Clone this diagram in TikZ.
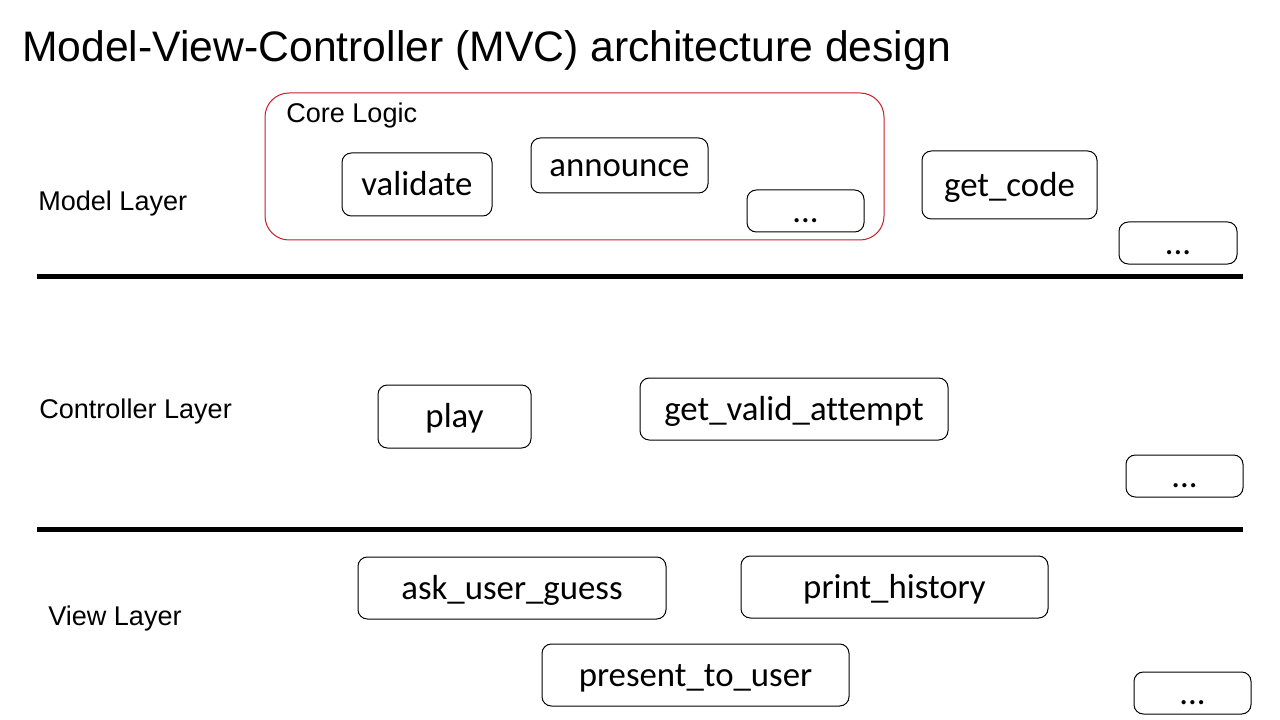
\documentclass[tikz,border=0pt]{standalone}
\usepackage{fontspec}
\setmainfont{Liberation Sans}
\newfontfamily\boxfont[Ligatures=NoCommon]{Carlito}
\definecolor{grpred}{RGB}{200,30,40}
\begin{document}
\begin{tikzpicture}[x=0.75pt,y=-0.75pt,
  fn/.style={draw=black, line width=0.75pt, rounded corners=7pt, inner sep=0pt,
    font=\boxfont\fontsize{26.1}{30}\selectfont, text height=18.4pt, text depth=1.7pt},
  lbl/.style={anchor=base west, inner sep=0pt, font=\fontsize{20.3}{24}\selectfont},
  sep/.style={line width=3.75pt},
  grp/.style={draw=grpred, line width=0.75pt, rounded corners=18pt}]
\useasboundingbox (0,0) rectangle (1280,720);
\fill[white] (0,0) rectangle (1280,720);

% title
\node[anchor=base west, inner sep=0pt, font=\fontsize{32}{38}\selectfont] (title) at (22,62)
  {Model-View-Controller (MVC) architecture design};

% core logic group
\draw[grp] (265,93) rectangle (884,240);
\node[lbl] (core) at (286,122.5) {Core Logic};

% layer labels
\node[lbl] (model) at (38,210.5) {Model Layer};
\node[lbl] (ctrl) at (39,418) {Controller Layer};
\node[lbl] (view) at (48,625) {View Layer};

% separators
\coordinate (s1a) at (37,276.5); \coordinate (s1b) at (1243,276.5);
\coordinate (s2a) at (37,529.5); \coordinate (s2b) at (1243,529.5);
\draw[sep] (s1a) -- (s1b);
\draw[sep] (s2a) -- (s2b);

% model layer boxes
\node[fn, minimum width=112.5pt, minimum height=47.25pt] (validate) at (417,184.5) {validate};
\node[fn, minimum width=132.75pt, minimum height=41.25pt] (announce) at (619.5,165.5) {announce};
\node[fn, minimum width=87.75pt, minimum height=31.5pt] (dots1) at (805.5,211) {...};
\node[fn, minimum width=131.25pt, minimum height=51pt] (getcode) at (1009.5,185) {get\_code};
\node[fn, minimum width=88.5pt, minimum height=31.5pt] (dots2) at (1178,243) {...};

% controller layer boxes
\node[fn, minimum width=114.75pt, minimum height=47.25pt] (play) at (454.5,416.5) {play};
\node[fn, minimum width=231pt, minimum height=46.5pt] (gva) at (794,409) {get\_valid\_attempt};
\node[fn, minimum width=87.75pt, minimum height=31.5pt] (dots3) at (1184.5,476) {...};

% view layer boxes
\node[fn, minimum width=231pt, minimum height=46.5pt] (aug) at (512,588) {ask\_user\_guess};
\node[fn, minimum width=230.25pt, minimum height=46.5pt] (ph) at (894.5,587) {print\_history};
\node[fn, minimum width=230.25pt, minimum height=46.5pt] (ptu) at (695.5,675) {present\_to\_user};
\node[fn, minimum width=87.75pt, minimum height=31.5pt] (dots4) at (1192.5,693) {...};
\end{tikzpicture}
\end{document}
